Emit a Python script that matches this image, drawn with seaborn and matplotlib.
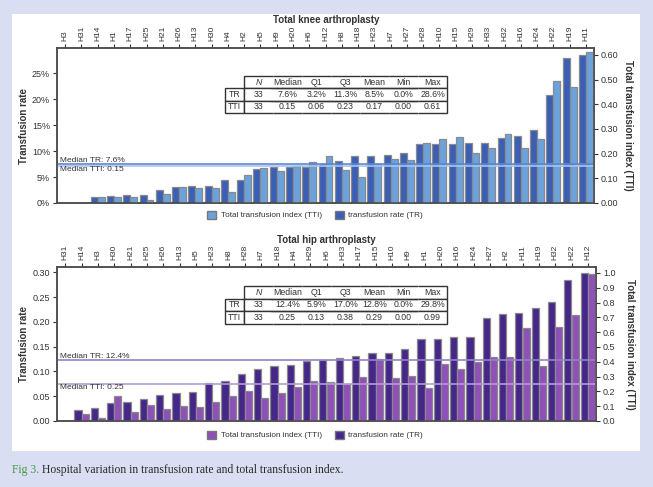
import pandas as pd
import matplotlib
matplotlib.use('Agg')
import matplotlib.pyplot as plt
import matplotlib.transforms as mtransforms
from matplotlib.patches import Patch, Rectangle
from matplotlib.ticker import FuncFormatter, MultipleLocator
import seaborn as sns

# ── Data: total knee arthroplasty ──
knee_hosp = ['H3', 'H31', 'H14', 'H1', 'H17', 'H25', 'H21', 'H26', 'H13', 'H30', 'H4',
             'H2', 'H5', 'H9', 'H20', 'H6', 'H12', 'H8', 'H18', 'H23', 'H7', 'H27',
             'H28', 'H10', 'H15', 'H29', 'H33', 'H32', 'H16', 'H24', 'H22', 'H19', 'H11']
knee_tr = [0, 0, 1.1, 1.4, 1.5, 1.55, 2.5, 3.15, 3.2, 3.3, 4.5,
           4.5, 6.6, 6.9, 6.9, 6.9, 7.6, 8.1, 9.1, 9.1, 9.3, 9.6,
           11.3, 11.3, 11.3, 11.5, 11.5, 12.6, 12.9, 14.0, 20.9, 27.9, 28.6]
knee_tti = [0, 0, 0.023, 0.026, 0.026, 0.013, 0.037, 0.064, 0.061, 0.059, 0.045,
            0.113, 0.143, 0.128, 0.15, 0.165, 0.19, 0.134, 0.107, 0.157, 0.178, 0.174,
            0.243, 0.258, 0.269, 0.202, 0.224, 0.279, 0.224, 0.259, 0.495, 0.468, 0.61]
knee_stats = [['TR', '33', '7.6%', '3.2%', '11.3%', '8.5%', '0.0%', '28.6%'],
              ['TTI', '33', '0.15', '0.06', '0.23', '0.17', '0.00', '0.61']]
knee_med_tr, knee_med_tti = 7.6, 0.15

# ── Data: total hip arthroplasty ──
hip_hosp = ['H31', 'H14', 'H3', 'H30', 'H21', 'H25', 'H26', 'H13', 'H5', 'H23', 'H8',
            'H28', 'H7', 'H18', 'H4', 'H29', 'H6', 'H33', 'H17', 'H15', 'H10', 'H9',
            'H1', 'H20', 'H16', 'H24', 'H27', 'H2', 'H11', 'H19', 'H32', 'H22', 'H12']
hip_tr = [0, 0.022, 0.027, 0.037, 0.039, 0.044, 0.052, 0.057, 0.059, 0.077, 0.081,
          0.095, 0.105, 0.111, 0.114, 0.121, 0.124, 0.128, 0.132, 0.137, 0.138, 0.145,
          0.166, 0.166, 0.170, 0.170, 0.209, 0.216, 0.218, 0.228, 0.241, 0.285, 0.298]
hip_tti = [0, 0.047, 0.022, 0.169, 0.059, 0.108, 0.083, 0.101, 0.097, 0.130, 0.169,
           0.203, 0.153, 0.191, 0.232, 0.272, 0.265, 0.25, 0.30, 0.419, 0.29, 0.306,
           0.225, 0.383, 0.351, 0.396, 0.435, 0.435, 0.628, 0.374, 0.637, 0.716, 0.99]
hip_stats = [['TR', '33', '12.4%', '5.9%', '17.0%', '12.8%', '0.0%', '29.8%'],
             ['TTI', '33', '0.25', '0.13', '0.38', '0.29', '0.00', '0.99']]
hip_med_tr, hip_med_tti = 0.124, 0.25

stat_cols = ['', 'N', 'Median', 'Q1', 'Q3', 'Mean', 'Min', 'Max']

sns.set_style('white')
plt.rcParams['font.family'] = ['Liberation Sans', 'DejaVu Sans']

W, H = 653, 487
fig = plt.figure(figsize=(W / 100, H / 100), dpi=100)
fig.patch.set_facecolor('#d9def2')
fig.patches.append(Rectangle((12 / W, 1 - 451 / H), 628 / W, 437 / H,
                             transform=fig.transFigure, facecolor='white',
                             edgecolor='none', zorder=-10))

SPINE = '#4d4d4d'
TXT = '#333333'


def draw_panel(rect, title, title_y, hosp, tr, tti, dark, light, line_tr, line_tti,
               med_tr, med_tti, tr_lbl, tti_lbl, ylim_l, ylim_r, step_l, step_r,
               fmt_l, fmt_r, stats, table_box, legend_y):
    ax = fig.add_axes(rect)
    ax2 = ax.twinx()
    n = len(hosp)
    df = pd.DataFrame({'hospital': hosp * 2,
                       'measure': ['TR'] * n + ['TTI'] * n,
                       'value': tr + tti})
    opts = dict(x='hospital', y='value', hue='measure', hue_order=['TR', 'TTI'],
                order=hosp, palette={'TR': dark, 'TTI': light}, width=0.86,
                dodge=True, saturation=1, edgecolor='#8a8a8a', linewidth=0.9,
                errorbar=None, legend=False)
    sns.barplot(data=df[df['measure'] == 'TR'], ax=ax, **opts)
    sns.barplot(data=df[df['measure'] == 'TTI'], ax=ax2, **opts)
    ax.set_xlim(-0.5, n - 0.5)
    ax.set_ylim(*ylim_l)
    ax2.set_ylim(*ylim_r)

    # median lines on top of all bars
    tr_trans = mtransforms.blended_transform_factory(ax2.transAxes, ax.transData)
    tti_trans = mtransforms.blended_transform_factory(ax2.transAxes, ax2.transData)
    ax2.plot([0, 1], [med_tr, med_tr], color=line_tr, lw=1.2, transform=tr_trans)
    ax2.plot([0, 1], [med_tti, med_tti], color=line_tti, lw=1.2, transform=tti_trans)
    ax2.text(0.005, med_tr, tr_lbl, transform=tr_trans, ha='left', va='bottom',
             fontsize=6, color=TXT)
    ax2.text(0.005, med_tti, tti_lbl, transform=tti_trans, ha='left', va='top',
             fontsize=6, color=TXT)

    # axes styling
    ax.set_xlabel('')
    ax2.set_xlabel('')
    ax.xaxis.tick_top()
    ax.tick_params(axis='x', top=True, bottom=False, labeltop=True, labelbottom=False,
                   labelrotation=90, labelsize=6, length=3, pad=2, colors=TXT)
    ax.yaxis.set_major_locator(MultipleLocator(step_l))
    ax.yaxis.set_major_formatter(FuncFormatter(fmt_l))
    ax2.yaxis.set_major_locator(MultipleLocator(step_r))
    ax2.yaxis.set_major_formatter(FuncFormatter(fmt_r))
    ax.tick_params(axis='y', left=True, labelsize=6.5, length=3, pad=2, colors=TXT)
    ax2.tick_params(axis='y', right=True, labelsize=6.5, length=3, pad=2, colors=TXT)
    for a in (ax, ax2):
        for s in a.spines.values():
            s.set_visible(True)
            s.set_color(SPINE)
            s.set_linewidth(1.1)

    ax.set_ylabel('Transfusion rate', fontsize=7, fontweight='bold', color=TXT,
                  ha='center', va='center')
    ax.yaxis.set_label_coords(-0.0615, 0.5)
    ax2.set_ylabel('Total transfusion index (TTI)', fontsize=7, fontweight='bold',
                   color=TXT, rotation=-90, ha='center', va='center')
    ax2.yaxis.set_label_coords(1.063, 0.5)

    # summary table
    tbl = ax2.table(cellText=stats, colLabels=stat_cols, cellLoc='center',
                    colLoc='center', colWidths=[19] + [29] * 7, bbox=table_box)
    tbl.auto_set_font_size(False)
    tbl.set_fontsize(6.3)
    last = len(stat_cols) - 1
    for (r, c), cell in tbl.get_celld().items():
        cell.set_edgecolor('#333333')
        cell.set_linewidth(1.0)
        cell.get_text().set_color(TXT)
        if r == 0 and c == 0:
            cell.visible_edges = 'open'
        elif c == 0:
            cell.visible_edges = 'closed'
        else:
            edges = 'TB'
            if c == 1:
                edges += 'L'
            if c == last:
                edges += 'R'
            cell.visible_edges = edges
        if r == 0 and c == 1:
            cell.get_text().set_style('italic')

    fig.text(326 / W, title_y, title, ha='center', va='center', fontsize=7,
             fontweight='bold', color=TXT)

    handles = [Patch(facecolor=light, edgecolor='#777777', label='Total transfusion index (TTI)'),
               Patch(facecolor=dark, edgecolor='#777777', label='transfusion rate (TR)')]
    fig.legend(handles=handles, loc='center', bbox_to_anchor=(315 / W, legend_y), ncol=2,
               frameon=False, fontsize=5.9, handlelength=1.1, handleheight=1.1,
               handletextpad=0.5, columnspacing=1.6, labelcolor=TXT)


# ── Panel 1: knee ──
draw_panel([57 / W, 1 - 203 / H, 537 / W, 155 / H], 'Total knee arthroplasty', 1 - 20 / H,
           knee_hosp, knee_tr, knee_tti, '#3b5fb4', '#6ca2dc', '#5b86d6', '#a9c4ec',
           knee_med_tr, knee_med_tti, 'Median TR: 7.6%', 'Median TTI: 0.15',
           (0, 29.9), (0, 0.628), 5, 0.1,
           lambda v, p: f'{v:.0f}%', lambda v, p: f'{v:.2f}',
           knee_stats, [0.3128, 0.5806, 0.4134, 0.2387], 1 - 215 / H)

# ── Panel 2: hip ──
draw_panel([57 / W, 1 - 421 / H, 539 / W, 154 / H], 'Total hip arthroplasty', 1 - 240 / H,
           hip_hosp, hip_tr, hip_tti, '#45278a', '#8f50b8', '#9482c8', '#b59bd8',
           hip_med_tr, hip_med_tti, 'Median TR: 12.4%', 'Median TTI: 0.25',
           (0, 0.311), (0, 1.04), 0.05, 0.1,
           lambda v, p: f'{v:.2f}', lambda v, p: f'{v:.1f}',
           hip_stats, [0.3117, 0.63, 0.4119, 0.2468], 1 - 435 / H)

# ── Caption ──
cap1 = fig.text(12 / W, 1 - 473 / H, 'Fig 3.', fontsize=8.4, color='#4a964a',
                family='Liberation Serif', va='baseline')
fig.canvas.draw()
bb = cap1.get_window_extent().transformed(fig.transFigure.inverted())
fig.text(bb.x1 + 3 / W, 1 - 473 / H, 'Hospital variation in transfusion rate and total transfusion index.',
         fontsize=8.4, color='#2b2b2b', family='Liberation Serif', va='baseline')

plt.savefig('out.png', dpi=100, facecolor=fig.get_facecolor())
